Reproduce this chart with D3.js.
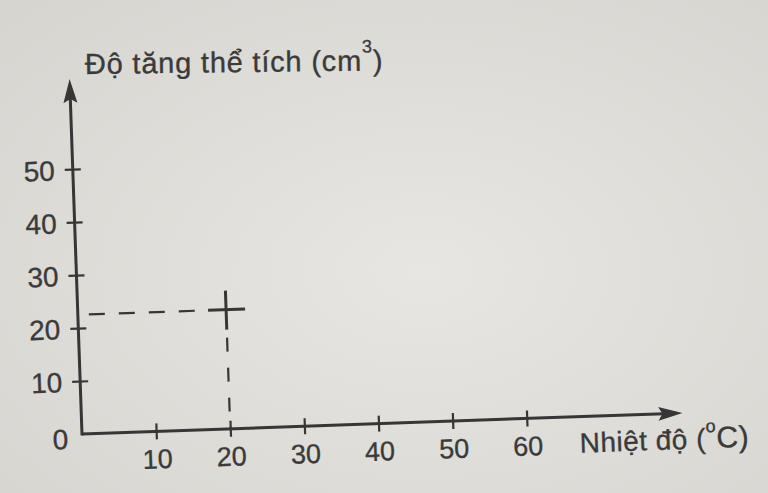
<!DOCTYPE html>
<html>
<head>
<meta charset="utf-8">
<script src="https://cdn.jsdelivr.net/npm/d3@7"></script>
<style>
   html, body { margin: 0; padding: 0; background: #e3e2de; }
   svg text { font-family: "Liberation Sans", Arial, sans-serif; fill: #3a3a3a; stroke: #3a3a3a; stroke-width: 0.35px; }
</style>
</head>
<body>
<div id="chart"></div>
<script>
// Tick values
const xTicks = [10, 20, 30, 40, 50, 60];
const yTicks = [0, 10, 20, 30, 40, 50];
// The single marked reading (temperature, volume increase)
const pointX = [20];
const pointY = [22.5];

const width = 768, height = 493;
const ink = "#363636";

const svg = d3.select("#chart")
   .append("svg")
   .attr("width", width)
   .attr("height", height);

// Paper background, slightly darker towards the edges
const grad = svg.append("defs").append("radialGradient")
   .attr("id", "paper")
   .attr("cx", "55%").attr("cy", "55%").attr("r", "75%");
grad.append("stop").attr("offset", "0%").attr("stop-color", "#e7e6e2");
grad.append("stop").attr("offset", "100%").attr("stop-color", "#d6d5d0");
svg.append("rect")
   .attr("width", width).attr("height", height)
   .attr("fill", "url(#paper)");

// The photo is tilted a little, so the plot group is rotated too
const plot = svg.append("g")
   .attr("transform", "translate(82,434) rotate(-2)");

const x = d3.scaleLinear().domain([0, 60]).range([0, 445]);
const y = d3.scaleLinear().domain([0, 50]).range([0, -265]);

const xEnd = 81, yEnd = 67; // where the arrows stop, in data units

// Axis lines
plot.append("line")
   .attr("x1", 0).attr("y1", 0)
   .attr("x2", x(xEnd) - 18).attr("y2", 0)
   .attr("stroke", ink).attr("stroke-width", 3);
plot.append("line")
   .attr("x1", 0).attr("y1", 1.5)
   .attr("x2", 0).attr("y2", y(yEnd) + 18)
   .attr("stroke", ink).attr("stroke-width", 3);

// Arrow heads
plot.append("path")
   .attr("d", `M${x(xEnd)},0 L${x(xEnd) - 24},-7 L${x(xEnd) - 20},0 L${x(xEnd) - 24},7 Z`)
   .attr("fill", ink);
plot.append("path")
   .attr("d", `M0,${y(yEnd)} L-7,${y(yEnd) + 24} L0,${y(yEnd) + 20} L7,${y(yEnd) + 24} Z`)
   .attr("fill", ink);

// X axis ticks and labels
const xAxis = plot.append("g")
   .call(d3.axisBottom(x).tickValues(xTicks).tickSize(0).tickPadding(0));
xAxis.select(".domain").remove();
xAxis.selectAll(".tick line").remove();
xAxis.selectAll(".tick").append("line")
   .attr("y1", -8).attr("y2", 8)
   .attr("stroke", ink).attr("stroke-width", 2.2);
xAxis.selectAll(".tick text")
   .attr("y", 37).attr("dy", 0)
   .attr("font-size", 27);

// Y axis ticks and labels
const yAxis = plot.append("g")
   .call(d3.axisLeft(y).tickValues(yTicks).tickSize(0).tickPadding(0));
yAxis.select(".domain").remove();
yAxis.selectAll(".tick line").remove();
yAxis.selectAll(".tick").filter(d => d !== 0).append("line")
   .attr("x1", -8).attr("x2", 8)
   .attr("stroke", ink).attr("stroke-width", 2.2);
yAxis.selectAll(".tick text")
   .attr("x", d => d === 0 ? -14 : -18)
   .attr("dy", d => d === 0 ? "0.5em" : "0.36em")
   .attr("font-size", 28);

// Dashed guide lines to the marked point
plot.append("line")
   .attr("x1", 11).attr("y1", y(pointY[0]))
   .attr("x2", x(pointX[0]) - 18).attr("y2", y(pointY[0]))
   .attr("stroke", ink).attr("stroke-width", 2.2)
   .attr("stroke-dasharray", "16,14");
plot.append("line")
   .attr("x1", x(pointX[0])).attr("y1", y(pointY[0]) + 20)
   .attr("x2", x(pointX[0])).attr("y2", 0)
   .attr("stroke", ink).attr("stroke-width", 2.2)
   .attr("stroke-dasharray", "0,8,14,8");

// The point itself, drawn as a cross
const marks = plot.append("g")
   .selectAll("g")
   .data(pointX.map((d, i) => ({ x: d, y: pointY[i] })))
   .join("g")
   .attr("transform", d => `translate(${x(d.x)},${y(d.y)})`)
   .attr("stroke", ink).attr("stroke-width", 3);
marks.append("line").attr("x1", -18).attr("x2", 19);
marks.append("line").attr("y1", -19).attr("y2", 20);

// Axis titles
const yTitle = svg.append("text")
   .attr("transform", "translate(85,74) rotate(-0.7)")
   .attr("font-size", 29)
   .attr("letter-spacing", 0.8);
yTitle.append("tspan").text("Độ tăng thể tích (cm");
yTitle.append("tspan").attr("font-size", 18).attr("dy", -18).text("3");
yTitle.append("tspan").attr("dy", 18).text(")");

const xTitle = plot.append("text")
   .attr("x", 497).attr("y", 36)
   .attr("font-size", 28)
   .attr("letter-spacing", 0.5);
xTitle.append("tspan").text("Nhiệt độ (");
xTitle.append("tspan").attr("font-size", 18).attr("dy", -16).text("o");
xTitle.append("tspan").attr("dy", 16).attr("font-size", 30).text("C)");
</script>
</body>
</html>
